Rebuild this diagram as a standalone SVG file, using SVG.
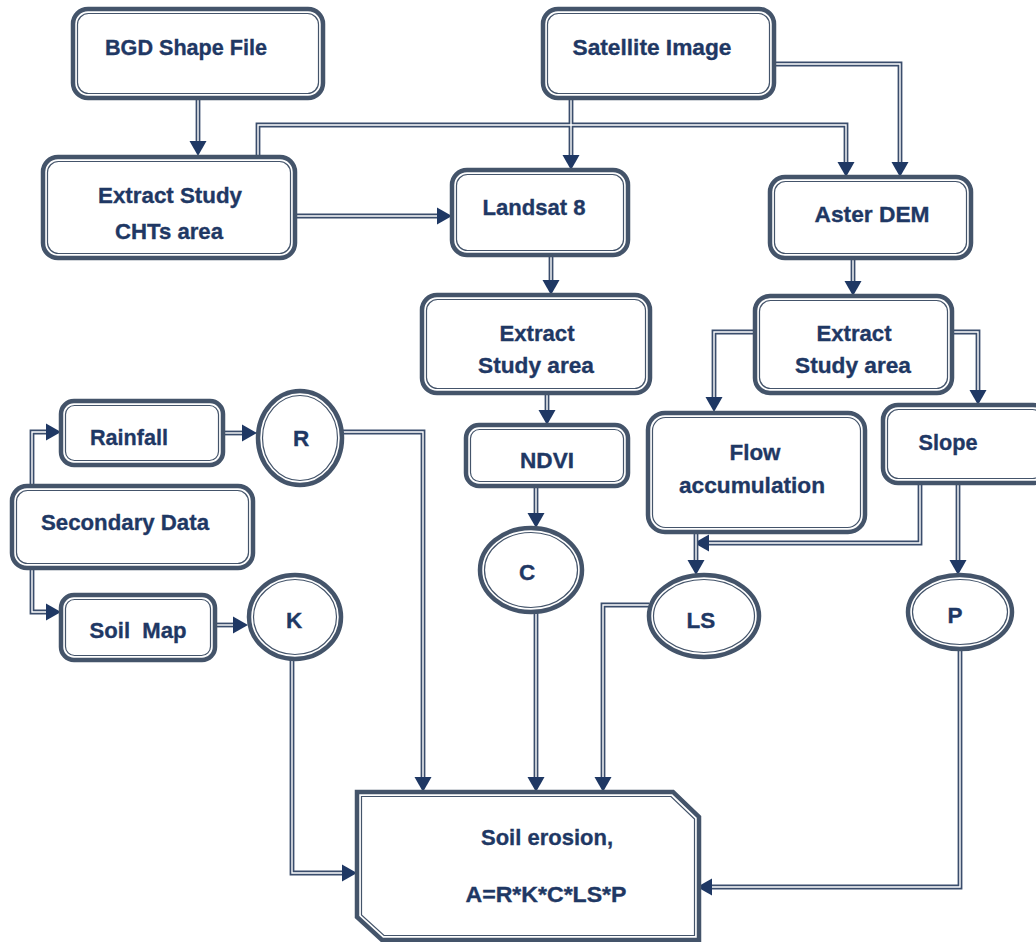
<svg xmlns="http://www.w3.org/2000/svg" xmlns:xlink="http://www.w3.org/1999/xlink" width="1036" height="942" viewBox="0 0 1036 942">
<style>
.o{fill:#fff;stroke:#44546A;stroke-width:4.5}
.i{fill:none;stroke:#44546A;stroke-width:1.2}
.t{font-family:"Liberation Sans",Arial,sans-serif;font-weight:bold;font-size:22.5px;fill:#1F3864;stroke:#1F3864;stroke-width:0.35;text-anchor:middle}
.wo{fill:none;stroke:#3A4D6C;stroke-width:4.8;marker-end:url(#ah)}
.wi{fill:none;stroke:#fff;stroke-width:1.4}
</style>
<defs>
<marker id="ah" markerUnits="userSpaceOnUse" markerWidth="16" markerHeight="18" viewBox="0 -9 16 18" refX="0" refY="0" orient="auto">
<path d="M0,-8.5 L15,0 L0,8.5 z" fill="#1F3864"/>
</marker>
<g id="wires">
<path d="M198,98 V141"/>
<path d="M258,156 V125 H846 V162"/>
<path d="M295,216 H437"/>
<path d="M571,98 V155"/>
<path d="M775,64 H900 V162"/>
<path d="M551,255 V280"/>
<path d="M853,258 V281"/>
<path d="M547,393 V410"/>
<path d="M536,486 V513"/>
<path d="M755,332 H714 V397"/>
<path d="M952,332 H978 V390"/>
<path d="M920,483 V543 H709"/>
<path d="M696,532 V560"/>
<path d="M958,483 V560"/>
<path d="M32,486 V432 H46"/>
<path d="M32,568 V612 H46"/>
<path d="M223,433 H242"/>
<path d="M215,625 H233"/>
<path d="M342,432 H423 V777"/>
<path d="M292,659 V873 H342"/>
<path d="M536,612 V777"/>
<path d="M649,605 H603 V777"/>
<path d="M960,649 V887 H712"/>
</g>
</defs>
<rect width="1036" height="942" fill="#fff"/>
<g id="connectors">
<use xlink:href="#wires" href="#wires" class="wo"/>
<use xlink:href="#wires" href="#wires" class="wi"/>
</g>
<g id="bgd"><rect class="o" x="73" y="9" width="250" height="89" rx="15"/><rect class="i" x="77.5" y="13.5" width="241" height="80" rx="11"/><text class="t" x="186" y="55" textLength="162" lengthAdjust="spacingAndGlyphs">BGD Shape File</text></g>
<g id="satellite"><rect class="o" x="543" y="9" width="231" height="89" rx="15"/><rect class="i" x="547.5" y="13.5" width="222" height="80" rx="11"/><text class="t" x="652" y="55" textLength="159" lengthAdjust="spacingAndGlyphs">Satellite Image</text></g>
<g id="cht"><rect class="o" x="43" y="157" width="252" height="101" rx="15"/><rect class="i" x="47.5" y="161.5" width="243" height="92" rx="11"/><text class="t" x="170" y="203" textLength="144" lengthAdjust="spacingAndGlyphs">Extract Study</text><text class="t" x="169" y="239" textLength="108" lengthAdjust="spacingAndGlyphs">CHTs area</text></g>
<g id="landsat"><rect class="o" x="452" y="170" width="176" height="85" rx="15"/><rect class="i" x="456.5" y="174.5" width="167" height="76" rx="11"/><text class="t" x="534" y="215" textLength="103" lengthAdjust="spacingAndGlyphs">Landsat 8</text></g>
<g id="aster"><rect class="o" x="770" y="177" width="201" height="81" rx="15"/><rect class="i" x="774.5" y="181.5" width="192" height="72" rx="11"/><text class="t" x="872" y="222" textLength="115" lengthAdjust="spacingAndGlyphs">Aster DEM</text></g>
<g id="extract-mid"><rect class="o" x="422" y="295" width="228" height="98" rx="15"/><rect class="i" x="426.5" y="299.5" width="219" height="89" rx="11"/><text class="t" x="537" y="341" textLength="75" lengthAdjust="spacingAndGlyphs">Extract</text><text class="t" x="536" y="373" textLength="116" lengthAdjust="spacingAndGlyphs">Study area</text></g>
<g id="extract-right"><rect class="o" x="755" y="296" width="197" height="97" rx="15"/><rect class="i" x="759.5" y="300.5" width="188" height="88" rx="11"/><text class="t" x="854" y="341" textLength="75" lengthAdjust="spacingAndGlyphs">Extract</text><text class="t" x="853" y="373" textLength="116" lengthAdjust="spacingAndGlyphs">Study area</text></g>
<g id="rainfall"><rect class="o" x="61" y="401" width="162" height="64" rx="13"/><rect class="i" x="65.5" y="405.5" width="153" height="55" rx="9"/><text class="t" x="129" y="445" textLength="78" lengthAdjust="spacingAndGlyphs">Rainfall</text></g>
<g id="r"><ellipse class="o" cx="300" cy="438" rx="42" ry="47"/><ellipse class="i" cx="300" cy="438" rx="37.5" ry="42.5"/><text class="t" x="301" y="446">R</text></g>
<g id="secondary"><rect class="o" x="12" y="486" width="241" height="82" rx="15"/><rect class="i" x="16.5" y="490.5" width="232" height="73" rx="11"/><text class="t" x="125" y="530" textLength="168" lengthAdjust="spacingAndGlyphs">Secondary Data</text></g>
<g id="soilmap"><rect class="o" x="61" y="595" width="154" height="65" rx="13"/><rect class="i" x="65.5" y="599.5" width="145" height="56" rx="9"/><text class="t" x="138" y="638" xml:space="preserve" textLength="97" lengthAdjust="spacingAndGlyphs">Soil  Map</text></g>
<g id="k"><ellipse class="o" cx="295" cy="617" rx="46" ry="42"/><ellipse class="i" cx="295" cy="617" rx="41.5" ry="37.5"/><text class="t" x="294" y="628">K</text></g>
<g id="ndvi"><rect class="o" x="466" y="425" width="162" height="61" rx="13"/><rect class="i" x="470.5" y="429.5" width="153" height="52" rx="9"/><text class="t" x="547" y="468" textLength="54" lengthAdjust="spacingAndGlyphs">NDVI</text></g>
<g id="c"><ellipse class="o" cx="531" cy="570" rx="51" ry="42"/><ellipse class="i" cx="531" cy="570" rx="46.5" ry="37.5"/><text class="t" x="527" y="580">C</text></g>
<g id="flow"><rect class="o" x="648" y="413" width="217" height="119" rx="17"/><rect class="i" x="652.5" y="417.5" width="208" height="110" rx="13"/><text class="t" x="755" y="460" textLength="51" lengthAdjust="spacingAndGlyphs">Flow</text><text class="t" x="752" y="493" textLength="146" lengthAdjust="spacingAndGlyphs">accumulation</text></g>
<g id="slope"><rect class="o" x="883" y="405" width="165" height="78" rx="15"/><rect class="i" x="887.5" y="409.5" width="156" height="69" rx="11"/><text class="t" x="948" y="450" textLength="59" lengthAdjust="spacingAndGlyphs">Slope</text></g>
<g id="ls"><ellipse class="o" cx="704" cy="616" rx="55" ry="41"/><ellipse class="i" cx="704" cy="616" rx="50.5" ry="36.5"/><text class="t" x="701" y="628">LS</text></g>
<g id="p"><ellipse class="o" cx="960" cy="612" rx="52" ry="37"/><ellipse class="i" cx="960" cy="612" rx="47.5" ry="32.5"/><text class="t" x="955" y="623">P</text></g>
<g id="erosion"><polygon class="o" points="357,792 673,792 699,817 699,940 382,940 357,917"/><polygon class="i" points="361.5,796.5 671,796.5 694.5,819 694.5,935.5 384,935.5 361.5,915"/><text class="t" x="547" y="845" textLength="132" lengthAdjust="spacingAndGlyphs">Soil erosion,</text><text class="t" x="546" y="902" textLength="161" lengthAdjust="spacingAndGlyphs">A=R*K*C*LS*P</text></g>
</svg>
